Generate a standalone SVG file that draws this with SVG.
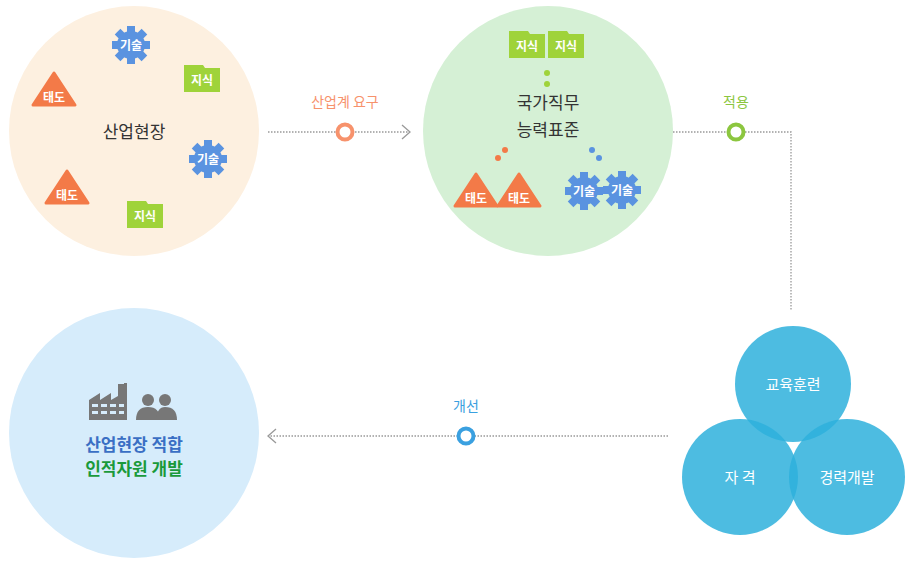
<svg xmlns="http://www.w3.org/2000/svg" width="915" height="566" viewBox="0 0 915 566">
<style>
text{font-family:"Noto Sans CJK KR","Noto Sans",sans-serif;text-anchor:middle}
.w{fill:#fff;font-size:12px;font-weight:bold}
.dk{fill:#333;font-size:17px}
.dl{fill:none;stroke:#999;stroke-width:1.3;stroke-dasharray:1.5 1.5}
.vn{fill:#2eb0dc;fill-opacity:.85}
.vt{fill:#fff;font-size:15px}
</style>
<defs>
<g id="gear"><circle r="14" fill="#5a93e0"/>
<g fill="#5a93e0"><rect x="-4" y="-19" width="8" height="38"/><rect x="-4" y="-19" width="8" height="38" transform="rotate(45)"/><rect x="-4" y="-19" width="8" height="38" transform="rotate(90)"/><rect x="-4" y="-19" width="8" height="38" transform="rotate(135)"/></g></g>
<g id="tri"><path d="M0 -17 L21 15 L-21 15 Z" fill="#f37a48" stroke="#f37a48" stroke-width="3" stroke-linejoin="round"/></g>
<g id="fld"><path d="M-18 -14 H1 L3 -11 H18 V13 H-18 Z" fill="#9fd33a"/></g>
<marker id="chev" markerWidth="12" markerHeight="16" refX="9" refY="8" orient="auto" markerUnits="userSpaceOnUse"><path d="M1 1 L9 8 L1 15" fill="none" stroke="#999" stroke-width="1.3"/></marker>
</defs>
<g id="c1">
<circle cx="134" cy="131" r="125" fill="#fdf0e0"/>
<text x="134" y="138" class="dk">산업현장</text>
<use href="#gear" x="131" y="45"/><text x="131" y="50" class="w">기술</text>
<use href="#fld" x="202" y="79"/><text x="202" y="85" class="w">지식</text>
<use href="#tri" x="54" y="90"/><text x="54" y="102" class="w">태도</text>
<use href="#gear" x="208" y="159"/><text x="208" y="164" class="w">기술</text>
<use href="#tri" x="67" y="188"/><text x="67" y="200" class="w">태도</text>
<use href="#fld" x="145" y="215"/><text x="145" y="221" class="w">지식</text>
</g>
<g id="c2">
<circle cx="548" cy="131" r="125" fill="#d5f0d5"/>
<use href="#fld" x="527" y="45"/><text x="527" y="51" class="w">지식</text>
<use href="#fld" x="566" y="45"/><text x="566" y="51" class="w">지식</text>
<circle cx="547" cy="73" r="3" fill="#9fd33a"/><circle cx="547" cy="84" r="3" fill="#9fd33a"/>
<text x="548" y="109" class="dk">국가직무</text>
<text x="548" y="136" class="dk">능력표준</text>
<circle cx="505" cy="150" r="3" fill="#f37a48"/><circle cx="498" cy="158" r="3" fill="#f37a48"/>
<circle cx="592" cy="150" r="3" fill="#5a93e0"/><circle cx="599" cy="158" r="3" fill="#5a93e0"/>
<use href="#tri" x="476" y="191"/><text x="476" y="203" class="w">태도</text>
<use href="#tri" x="519" y="191"/><text x="519" y="203" class="w">태도</text>
<use href="#gear" x="584" y="191"/><text x="584" y="196" class="w">기술</text>
<use href="#gear" x="622" y="190"/><text x="622" y="195" class="w">기술</text>
</g>
<g id="c3">
<circle cx="134" cy="433" r="125" fill="#d6ecfb"/>
<g fill="#777">
<path d="M89 420 V400 L100 393 V400 L111 393 V400 L118 396 V384 H122 L124 384 V383 H127 V420 Z"/>
<g fill="#d6ecfb"><rect x="92" y="404" width="6" height="3"/><rect x="101" y="404" width="6" height="3"/><rect x="110" y="404" width="6" height="3"/><rect x="92" y="411" width="6" height="3"/><rect x="101" y="411" width="6" height="3"/><rect x="110" y="411" width="6" height="3"/><rect x="119" y="404" width="5" height="3"/><rect x="119" y="411" width="5" height="3"/></g>
<circle cx="148" cy="400" r="6"/><circle cx="165" cy="400" r="6"/>
<path d="M136 420 Q136 407 148 407 Q160 407 160 420 Z"/><path d="M156 420 Q157 407 165 407 Q177 407 177 420 Z"/>
</g>
<text x="134" y="451" fill="#3a6fc4" font-size="17" font-weight="bold">산업현장 적합</text>
<text x="134" y="475" fill="#1a9a3a" font-size="17" font-weight="bold">인적자원 개발</text>
</g>
<g id="venn">
<circle class="vn" cx="793" cy="384" r="58"/>
<circle class="vn" cx="740" cy="477" r="58"/>
<circle class="vn" cx="847" cy="477" r="58"/>
<text x="793" y="390" class="vt">교육훈련</text>
<text x="740" y="483" class="vt">자 격</text>
<text x="847" y="483" class="vt">경력개발</text>
</g>
<g id="connectors">
<path class="dl" d="M268 132 H410" marker-end="url(#chev)"/>
<path class="dl" d="M673 132 H791 V310"/>
<path class="dl" d="M668 436 H268" marker-end="url(#chev)"/>
<circle cx="345" cy="132" r="7.5" fill="#fff" stroke="#f7926c" stroke-width="4"/>
<text x="345" y="107" fill="#f7926c" font-size="14">산업계 요구</text>
<circle cx="736" cy="132" r="7.5" fill="#fff" stroke="#8cc63f" stroke-width="4"/>
<text x="736" y="107" fill="#8cc63f" font-size="14">적용</text>
<circle cx="466" cy="436" r="7.5" fill="#fff" stroke="#3aa0e0" stroke-width="4"/>
<text x="466" y="411" fill="#3aa0e0" font-size="14">개선</text>
</g>
</svg>
